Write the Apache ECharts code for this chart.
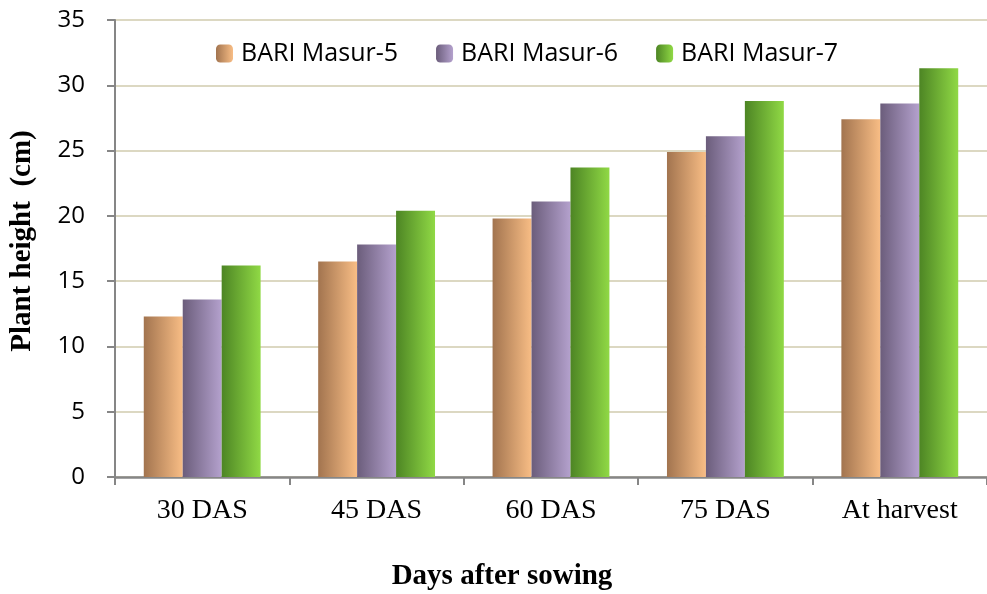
<!DOCTYPE html>
<html><head><meta charset="utf-8">
<script src="https://cdn.jsdelivr.net/npm/echarts@6/dist/echarts.min.js"></script>
<style>html,body{margin:0;padding:0;background:#fff}#c{width:987px;height:594px}</style>
</head><body><div id="c"></div>
<script>
var categories = ['30 DAS', '45 DAS', '60 DAS', '75 DAS', 'At harvest'];
var seriesNames = ['BARI Masur-5', 'BARI Masur-6', 'BARI Masur-7'];
var masur5 = [12.3, 16.5, 19.8, 24.9, 27.4];
var masur6 = [13.6, 17.8, 21.1, 26.1, 28.6];
var masur7 = [16.2, 20.4, 23.7, 28.8, 31.3];
var yTicks = [0, 5, 10, 15, 20, 25, 30, 35];

function grad(a, b) {
  return new echarts.graphic.LinearGradient(0, 0, 1, 0, [{offset: 0, color: a}, {offset: 1, color: b}]);
}
var colors = [grad('#a2744f', '#f8bd85'), grad('#6b5d7b', '#b4a1cd'), grad('#4d8524', '#90d945')];
var datas = [masur5, masur6, masur7];

var chart = echarts.init(document.getElementById('c'));
chart.setOption({
  animation: false,
  backgroundColor: '#fff',
  grid: {left: 115, top: 20, width: 877, height: 457, containLabel: false},
  legend: {
    left: 216, top: 41, padding: 0, itemWidth: 17, itemHeight: 18, itemGap: 38,
    textStyle: {fontFamily: 'Open Sans', fontSize: 25, color: '#000', padding: [0, 0, 0, 3]},
    data: seriesNames
  },
  xAxis: {
    type: 'category', data: categories,
    axisLine: {lineStyle: {color: '#868686', width: 2.5}},
    axisTick: {show: true, length: 8, lineStyle: {color: '#868686', width: 2}},
    axisLabel: {fontFamily: 'Liberation Serif', fontSize: 28, color: '#000', margin: 20}
  },
  yAxis: {
    type: 'value', min: yTicks[0], max: yTicks[yTicks.length - 1], interval: 5,
    axisLine: {show: true, lineStyle: {color: '#868686', width: 2}},
    axisTick: {show: true, length: 8, lineStyle: {color: '#868686', width: 2}},
    axisLabel: {fontFamily: 'Open Sans', fontSize: 24, color: '#000', margin: 30},
    splitLine: {lineStyle: {color: '#dcd8c2', width: 2}}
  },
  graphic: [
    {type: 'text', x: 502, y: 577, style: {text: 'Days after sowing', font: 'bold 29px "Liberation Serif"', fill: '#000', textAlign: 'center', textVerticalAlign: 'middle'}},
    {type: 'text', x: 23, y: 241, rotation: Math.PI / 2, style: {text: 'Plant height  (cm)', font: 'bold 29px "Liberation Serif"', fill: '#000', textAlign: 'center', textVerticalAlign: 'middle'}}
  ],
  series: datas.map(function (d, i) {
    return {
      name: seriesNames[i], type: 'bar', data: d,
      barGap: '0%', barCategoryGap: '33%',
      itemStyle: {color: colors[i]}
    };
  })
});
</script></body></html>
